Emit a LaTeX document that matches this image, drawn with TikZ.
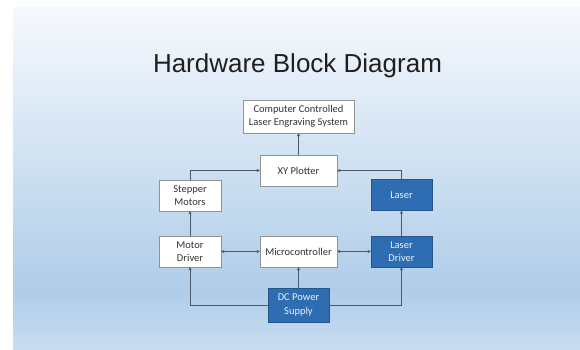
\documentclass[tikz,border=0pt]{standalone}
\usepackage{fontspec}
\setmainfont{Carlito}
\newfontfamily\titlefont{Liberation Sans}
\usetikzlibrary{arrows.meta}
\definecolor{slidetop}{HTML}{F6F9FD}
\definecolor{slidemid}{HTML}{AFCDE9}
\definecolor{slidebot}{HTML}{C8DDF1}
\definecolor{boxblue}{HTML}{2E6DB1}
\definecolor{boxblueline}{HTML}{25568B}
\definecolor{wireclr}{HTML}{4A5A6A}
\begin{document}
\begin{tikzpicture}[x=1pt,y=1pt,
  every node/.style={font=\fontsize{10.5}{13.5}\selectfont},
  whitebox/.style={draw=gray!85,fill=white,text=black!80,align=center,minimum height=31pt,inner sep=1pt},
  bluebox/.style={draw=boxblueline,fill=boxblue,text=white!90!boxblue,align=center,minimum height=31pt,inner sep=1pt},
  wire/.style={draw=wireclr,line width=0.6pt,-{Stealth[length=3.2pt,width=3.2pt]}},
  biwire/.style={draw=wireclr,line width=0.6pt,{Stealth[length=3.2pt,width=3.2pt]}-{Stealth[length=3.2pt,width=3.2pt]}}]
\useasboundingbox (0,0) rectangle (580,350);
\fill[white] (0,0) rectangle (580,350);
\shade[top color=slidetop,bottom color=slidemid] (13,60) rectangle (580,342);
\shade[top color=slidemid,bottom color=slidebot] (13,0) rectangle (580,60.2);
\node[font=\titlefont\fontsize{26}{30}\selectfont,text=black!88,anchor=base] (title) at (297.5,277) {Hardware Block Diagram};
\node[whitebox,minimum width=111pt,minimum height=33pt] (comp) at (298.5,233.5) {Computer Controlled\\Laser Engraving System};
\node[whitebox,minimum width=77pt] (xy) at (298.5,179.5) {XY Plotter};
\node[whitebox,minimum width=62pt] (stepper) at (190,154.5) {Stepper\\Motors};
\node[bluebox,minimum width=61pt] (laser) at (401.5,155) {Laser};
\node[whitebox,minimum width=62pt] (motor) at (190,98.5) {Motor\\Driver};
\node[whitebox,minimum width=77pt] (mcu) at (298.5,98.5) {Microcontroller};
\node[bluebox,minimum width=61pt] (ldriver) at (401.5,98.5) {Laser\\Driver};
\node[bluebox,minimum width=61pt,minimum height=34pt] (dc) at (298.5,45) {DC Power\\Supply};
\draw[wire] (xy) -- (comp);
\draw[wire] (stepper.north) |- (xy.west); \draw[wire] (laser.north) |- (xy.east);
\draw[wire] (motor) -- (stepper); \draw[wire] (ldriver) -- (laser);
\draw[biwire] (motor) -- (mcu); \draw[biwire] (mcu) -- (ldriver);
\draw[wire] (dc) -- (mcu);
\draw[wire] (dc.west) -| (motor.south); \draw[wire] (dc.east) -| (ldriver.south);
\end{tikzpicture}
\end{document}
